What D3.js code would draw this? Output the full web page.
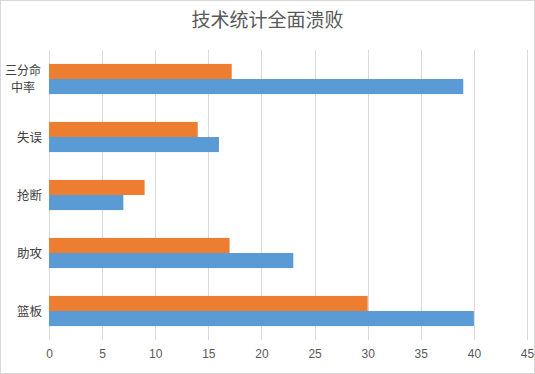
<!DOCTYPE html>
<html><head><meta charset="utf-8">
<script src="https://cdn.jsdelivr.net/npm/d3@7"></script>
<style>body{margin:0;background:#fff;}svg{display:block;font-family:"Noto Sans CJK SC","Microsoft YaHei",sans-serif;}</style>
</head><body>
<script>
const title = "技术统计全面溃败";
const categories = ["三分命中率", "失误", "抢断", "助攻", "篮板"];
const categoryLines = [["三分命", "中率"], ["失误"], ["抢断"], ["助攻"], ["篮板"]];
const seriesOrange = [17.2, 14, 9, 17, 30];
const seriesBlue = [39, 16, 7, 23, 40];
const xTicks = [0, 5, 10, 15, 20, 25, 30, 35, 40, 45];
const colors = {orange: "#ED7D31", blue: "#5B9BD5"};

const W = 535, H = 374;
const m = {left: 49, right: 8, top: 50, bottom: 34};
const svg = d3.select("body").append("svg").attr("width", W).attr("height", H);
svg.append("rect").attr("x", 0.5).attr("y", 0.5).attr("width", W - 1).attr("height", H - 1)
  .attr("fill", "#fff").attr("stroke", "#d9d9d9");

const x = d3.scaleLinear().domain([0, 45]).range([m.left, W - m.right]);
const y = d3.scaleBand().domain(categories).range([m.top, H - m.bottom]).paddingInner(0.48).paddingOuter(0.24);
const sub = d3.scaleBand().domain(["orange", "blue"]).range([0, y.bandwidth()]);

// gridlines
svg.append("g").selectAll("line").data(xTicks).join("line")
  .attr("x1", d => Math.round(x(d)) + 0.5).attr("x2", d => Math.round(x(d)) + 0.5)
  .attr("y1", m.top).attr("y2", H - m.bottom)
  .attr("stroke", "#d9d9d9").attr("stroke-width", 1);

// bars
const rows = categories.map((c, i) => ({c, orange: seriesOrange[i], blue: seriesBlue[i]}));
const g = svg.append("g");
["orange", "blue"].forEach(s => {
  g.selectAll("rect." + s).data(rows).join("rect").attr("class", s)
    .attr("x", x(0)).attr("y", d => y(d.c) + sub(s))
    .attr("width", d => x(d[s]) - x(0)).attr("height", sub.bandwidth())
    .attr("fill", colors[s]);
});

// x axis labels
const xAxis = d3.axisBottom(x).tickValues(xTicks).tickSize(0).tickPadding(9);
const ax = svg.append("g").attr("transform", `translate(0,${H - m.bottom})`).call(xAxis);
ax.select(".domain").remove();
ax.selectAll("text").attr("fill", "#595959").attr("font-size", 12)
  .attr("font-family", "'Liberation Sans', Arial, sans-serif");

// y labels
const yl = svg.append("g");
categories.forEach((c, i) => {
  const lines = categoryLines[i];
  const cy = y(c) + y.bandwidth() / 2;
  const multi = lines.length > 1;
  lines.forEach((ln, j) => {
    yl.append("text").attr("text-anchor", multi ? "middle" : "end")
      .attr("fill", "#404040").attr("font-size", multi ? 12 : 12.5)
      .attr("x", multi ? 23 : 42)
      .attr("y", cy + (j - (lines.length - 1) / 2) * 17.5 + 4.5).text(ln);
  });
});

// title
svg.append("text").attr("x", W / 2).attr("y", 27).attr("text-anchor", "middle")
  .attr("fill", "#595959").attr("font-size", 19).text(title);
</script>
</body></html>
